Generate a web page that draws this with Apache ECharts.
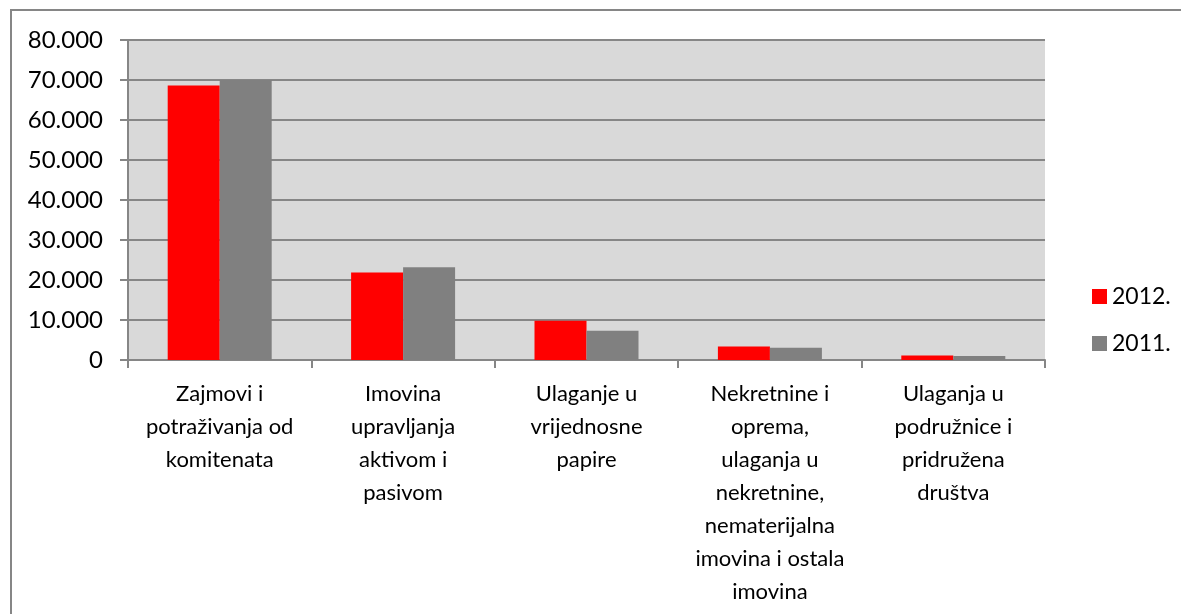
<!DOCTYPE html>
<html>
<head>
<meta charset="utf-8">
<script src="https://cdn.jsdelivr.net/npm/echarts@6/dist/echarts.min.js"></script>
<style>
  html, body { margin: 0; padding: 0; background: #fff; }
  #chart { width: 1181px; height: 614px; }
</style>
</head>
<body>
<div id="chart"></div>
<script>
// categories, wrapped the same way as in the picture
var categories = [
  'Zajmovi i\npotraživanja od\nkomitenata',
  'Imovina\nupravljanja\naktivom i\npasivom',
  'Ulaganje u\nvrijednosne\npapire',
  'Nekretnine i\noprema,\nulaganja u\nnekretnine,\nnematerijalna\nimovina i ostala\nimovina',
  'Ulaganja u\npodružnice i\npridružena\ndruštva'
]
var seriesNames = ['2012.', '2011.']
var values2012 = [68600, 21900, 9800, 3400, 1100]
var values2011 = [70000, 23200, 7300, 3050, 1000]

var fontFamily = 'Lato, "Open Sans", sans-serif'
var axisGray = '#868686'

var chart = echarts.init(document.getElementById('chart'), null, { renderer: 'canvas' })

chart.setOption({
  animation: false,
  textStyle: { fontFamily: fontFamily, color: '#000' },
  graphic: [{
    type: 'rect',
    shape: { x: 11, y: 10, width: 1300, height: 700 },
    style: { fill: 'none', stroke: axisGray, lineWidth: 2 },
    z: 100
  }],
  grid: {
    left: 128,
    right: 136,
    top: 40,
    bottom: 254,
    show: true,
    backgroundColor: '#d9d9d9',
    borderWidth: 0
  },
  legend: {
    orient: 'vertical',
    left: 1087,
    top: 280,
    itemWidth: 15,
    itemHeight: 15,
    itemGap: 24,
    icon: 'rect',
    textStyle: { fontFamily: fontFamily, fontSize: 23, color: '#000' },
    data: seriesNames
  },
  xAxis: {
    type: 'category',
    data: categories,
    axisLine: { lineStyle: { color: axisGray, width: 2 } },
    axisTick: { show: true, alignWithLabel: false, length: 8, lineStyle: { color: axisGray, width: 2 } },
    axisLabel: {
      interval: 0,
      margin: 17,
      fontSize: 22,
      lineHeight: 33,
      color: '#000',
      fontFamily: fontFamily,
      align: 'center'
    }
  },
  yAxis: {
    type: 'value',
    min: 0,
    max: 80000,
    interval: 10000,
    axisLine: { show: true, lineStyle: { color: axisGray, width: 2 } },
    axisTick: { show: true, length: 8, lineStyle: { color: axisGray, width: 2 } },
    splitLine: { show: true, lineStyle: { color: axisGray, width: 2 } },
    axisLabel: {
      margin: 25,
      fontSize: 24,
      color: '#000',
      fontFamily: fontFamily,
      formatter: function (v) {
        return v === 0 ? '0' : (v / 1000) + '.000'
      }
    }
  },
  series: [
    {
      name: seriesNames[0],
      type: 'bar',
      data: values2012,
      barWidth: 52,
      barGap: '0%',
      itemStyle: { color: '#ff0000' }
    },
    {
      name: seriesNames[1],
      type: 'bar',
      data: values2011,
      barWidth: 52,
      barGap: '0%',
      itemStyle: { color: '#808080' }
    }
  ]
})
</script>
</body>
</html>
